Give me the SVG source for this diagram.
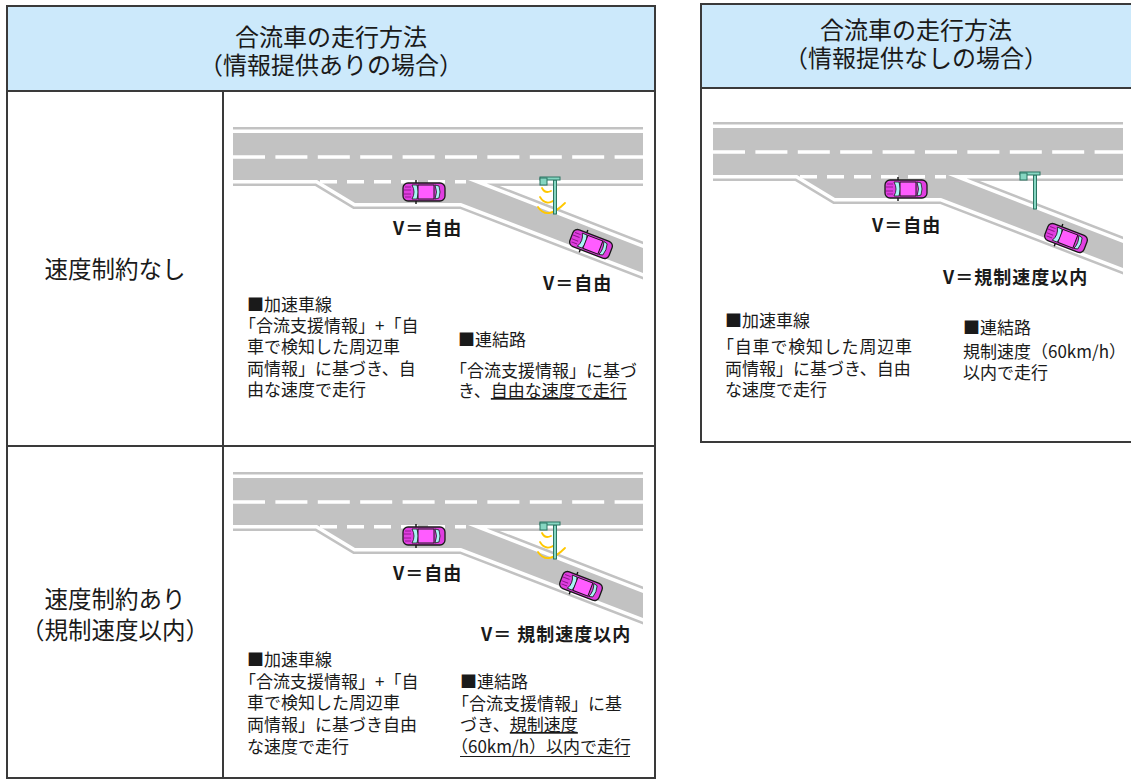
<svg xmlns="http://www.w3.org/2000/svg" xmlns:xlink="http://www.w3.org/1999/xlink" width="1131" height="780" viewBox="0 0 1131 780">
<style>
  .frame{fill:none;stroke:#3a3a3a;stroke-width:2}
  .head{fill:#cce9fb;stroke:#3a3a3a;stroke-width:2}
  .line{stroke:#3a3a3a;stroke-width:2}
  text{font-family:"Noto Sans CJK JP","Noto Sans",sans-serif;fill:#1a1a1a}
  .h{font-size:24px;text-anchor:middle}
  .row{font-size:23.5px;text-anchor:middle}
  .t{font-size:17px}
  .v{font-size:18px;font-weight:bold;letter-spacing:1px}
  .u{text-decoration:underline}
  .ul{stroke:#1a1a1a;stroke-width:1.1}
  .edgeOuter{fill:none;stroke:#c2c2c2;stroke-width:12}
  .edgeInner{fill:none;stroke:#ffffff;stroke-width:7}
  .body{fill:#c2c2c2;stroke:none}
  .dash{stroke:#ffffff;stroke-width:3.5}
  .wave{fill:none;stroke:#ffc800;stroke-width:1.8;stroke-linecap:round}
  .pole{fill:#86d6c2;stroke:#2a7562;stroke-width:1}
</style>
<defs>
  <clipPath id="roadClip" clipPathUnits="userSpaceOnUse">
    <rect x="233" y="100" width="410" height="200"/>
  </clipPath>
  <!-- main carriageway + acceleration lane + slip road outline -->
  <path id="roadShape" d="M233,133 H643 V180 H468 L643,248 V273 L461,203 H355 L317,180 H233 Z"/>
  <g id="road" clip-path="url(#roadClip)">
    <use xlink:href="#roadShape" class="edgeOuter"/>
    <use xlink:href="#roadShape" class="edgeInner"/>
    <use xlink:href="#roadShape" class="body"/>
    <line class="dash" x1="233" y1="157" x2="643" y2="157" stroke-dasharray="32 10.4"/>
    <line class="dash" x1="320" y1="181.8" x2="466" y2="181.8" stroke-dasharray="17 10"/>
  </g>
  <!-- car seen from above, front towards -x -->
  <g id="car">
    <path d="M-8,-8 V-12 M-8,8 V12" stroke="#111" stroke-width="1.4"/>
    <rect x="-21" y="-9" width="42" height="18" rx="5" fill="#e03ee0" stroke="#1a1a1a" stroke-width="1.3"/>
    <path d="M-19,-5 H-13 M-20,-2 H-13 M-20,2 H-13 M-19,5 H-13" stroke="#8c168c" stroke-width="0.9"/>
    <path d="M-12,-7 Q-8,0 -12,7 L-7,7 Q-4,0 -7,-7 Z" fill="#a8f4f4" stroke="#1a1a1a" stroke-width="0.8"/>
    <rect x="-6" y="-7" width="16" height="14" fill="#ff5cff" stroke="#1a1a1a" stroke-width="1"/>
    <path d="M11,-7 Q14,0 11,7 L15,6 Q17,0 15,-6 Z" fill="#a8f4f4" stroke="#1a1a1a" stroke-width="0.8"/>
  </g>
  <!-- roadside unit post -->
  <g id="post">
    <rect class="pole" x="553.5" y="180" width="3" height="34"/>
    <rect class="pole" x="540" y="177" width="20" height="3"/>
    <rect class="pole" x="540" y="178" width="7" height="7" fill="#b4f0e0"/>
  </g>
  <g id="waves">
    <path class="wave" d="M542,188 Q545,194 551,191"/>
    <path class="wave" d="M540,197 Q546,207 556,199"/>
    <path class="wave" d="M538,207 Q547,221 565,203"/>
  </g>
</defs>

<rect width="1131" height="780" fill="#ffffff"/>

<!-- left table: with merge-support information -->
<g id="table-with-info">
  <rect x="7" y="6" width="648" height="772" fill="#ffffff" class="frame"/>
  <rect x="7" y="6" width="648" height="85" class="head"/>
  <line class="line" x1="223" y1="91" x2="223" y2="778"/>
  <line class="line" x1="7" y1="446" x2="655" y2="446"/>
  <text class="h" x="331" y="46">合流車の走行方法</text>
  <text class="h" x="331" y="74">（情報提供ありの場合）</text>
</g>

<g id="row-no-limit">
  <text class="row" x="115" y="278">速度制約なし</text>
</g>
<g id="row-limit">
  <text class="row" x="115" y="608">速度制約あり</text>
  <text class="row" x="115" y="639">（規制速度以内）</text>
</g>

<!-- right table: without information -->
<g id="table-without-info">
  <rect x="701" y="4" width="431" height="438" fill="#ffffff" class="frame"/>
  <rect x="701" y="4" width="431" height="84" class="head"/>
  <text class="h" x="916" y="39">合流車の走行方法</text>
  <text class="h" x="916" y="67">（情報提供なしの場合）</text>
</g>

<!-- panel 1: information, no speed constraint -->
<g id="scene-1">
  <use xlink:href="#road"/>
  <use xlink:href="#waves"/>
  <use xlink:href="#post"/>
  <use xlink:href="#car" transform="translate(424,192)"/>
  <use xlink:href="#car" transform="translate(591,244) rotate(21)"/>
  <text class="v" x="393" y="235">V＝自由</text>
  <text class="v" x="543" y="290">V＝自由</text>
  <text class="t" x="247" y="311">■加速車線</text>
  <text class="t" x="239" y="332">「合流支援情報」+「自</text>
  <text class="t" x="247" y="353">車で検知した周辺車</text>
  <text class="t" x="247" y="375">両情報」に基づき、自</text>
  <text class="t" x="247" y="396">由な速度で走行</text>
  <text class="t" x="458" y="346">■連結路</text>
  <text class="t" x="450" y="377">「合流支援情報」に基づ</text>
  <text class="t" x="458" y="397">き、<tspan class="u">自由な速度で走行</tspan></text>
</g>

<!-- panel 2: information, regulated speed -->
<g id="scene-2">
  <use xlink:href="#road" transform="translate(0,345)"/>
  <use xlink:href="#waves" transform="translate(0,345)"/>
  <use xlink:href="#post" transform="translate(0,345)"/>
  <use xlink:href="#car" transform="translate(424,536)"/>
  <use xlink:href="#car" transform="translate(581,586) rotate(21)"/>
  <text class="v" x="393" y="580">V＝自由</text>
  <text class="v" x="481" y="641" letter-spacing="0">V＝ 規制速度以内</text>
  <text class="t" x="247" y="666">■加速車線</text>
  <text class="t" x="239" y="688">「合流支援情報」+「自</text>
  <text class="t" x="247" y="709">車で検知した周辺車</text>
  <text class="t" x="247" y="731">両情報」に基づき自由</text>
  <text class="t" x="247" y="753">な速度で走行</text>
  <text class="t" x="460" y="688">■連結路</text>
  <text class="t" x="452" y="710">「合流支援情報」に基</text>
  <text class="t" x="460" y="731">づき、<tspan class="u">規制速度</tspan></text>
  <text class="t" x="451" y="753">（60km/h）以内で走行</text>
  <line class="ul" x1="460" y1="756.5" x2="630" y2="756.5"/>
</g>

<!-- panel 3: no information -->
<g id="scene-3">
  <use xlink:href="#road" transform="translate(480,-5)"/>
  <use xlink:href="#post" transform="translate(480,-5)"/>
  <use xlink:href="#car" transform="translate(906,189)"/>
  <use xlink:href="#car" transform="translate(1066,238) rotate(21)"/>
  <text class="v" x="872" y="232">V＝自由</text>
  <text class="v" x="943" y="284">V＝規制速度以内</text>
  <text class="t" x="725" y="327">■加速車線</text>
  <text class="t" x="717" y="353" letter-spacing="0.8">「自車で検知した周辺車</text>
  <text class="t" x="725" y="375">両情報」に基づき、自由</text>
  <text class="t" x="725" y="396">な速度で走行</text>
  <text class="t" x="963" y="334">■連結路</text>
  <text class="t" x="963" y="358">規制速度（60km/h）</text>
  <text class="t" x="963" y="379">以内で走行</text>
</g>
</svg>
